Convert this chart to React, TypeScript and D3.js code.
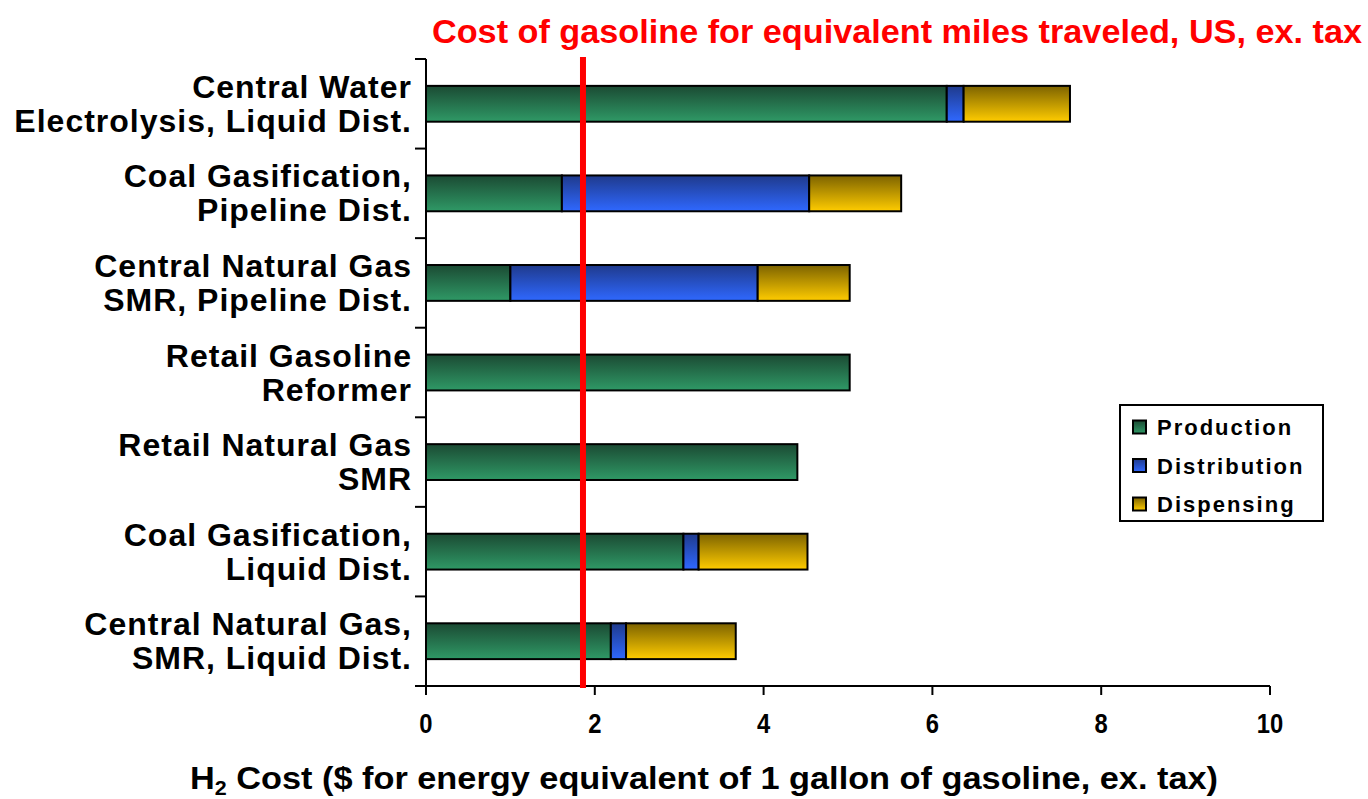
import React, {useEffect, useRef} from 'react';
import * as d3 from "d3"

const categories = [
    ["Central Water", "Electrolysis, Liquid Dist."],
    ["Coal Gasification,", "Pipeline Dist."],
    ["Central Natural Gas", "SMR, Pipeline Dist."],
    ["Retail Gasoline", "Reformer"],
    ["Retail Natural Gas", "SMR"],
    ["Coal Gasification,", "Liquid Dist."],
    ["Central Natural Gas,", "SMR, Liquid Dist."],
]
const production = [6.17, 1.61, 1.0, 5.02, 4.40, 3.05, 2.19]
const distribution = [0.2, 2.93, 2.93, 0, 0, 0.18, 0.18]
const dispensing = [1.26, 1.09, 1.09, 0, 0, 1.29, 1.30]
const seriesNames = ["Production", "Distribution", "Dispensing"]
const xTicks = [0, 2, 4, 6, 8, 10]
const gasolineCost = 1.86

const width = 1368
const height = 799
const margin = {top: 59, right: 98, bottom: 113, left: 426}
const gradients = [["#1b4a33", "#2f9966"], ["#1f3a8c", "#2f68ff"], ["#7d6300", "#ffcc00"]]

const App = () => {
    const svgRef = useRef(null)

    useEffect(() => {
        const svg = d3.select(svgRef.current)
        svg.selectAll("*").remove()
        const font = "'Liberation Sans', Arial, sans-serif"

        // gradients for the bars
        const defs = svg.append("defs")
        seriesNames.forEach((name, i) => {
            const g = defs.append("linearGradient")
                .attr("id", "grad" + i)
                .attr("x1", 0).attr("y1", 0).attr("x2", 0).attr("y2", 1)
            g.append("stop").attr("offset", "0%").attr("stop-color", gradients[i][0])
            g.append("stop").attr("offset", "100%").attr("stop-color", gradients[i][1])
        })

        const rows = categories.map((c, i) => ({
            key: i,
            Production: production[i],
            Distribution: distribution[i],
            Dispensing: dispensing[i],
        }))
        const stacked = d3.stack().keys(seriesNames)(rows)

        const xScale = d3.scaleLinear()
            .domain([0, 10])
            .range([margin.left, width - margin.right])
        const yScale = d3.scaleBand()
            .domain(categories.map((c, i) => i))
            .range([margin.top, height - margin.bottom])
            .paddingInner(0.6)
            .paddingOuter(0.3)

        // bars
        stacked.forEach((layer, si) => {
            svg.append("g")
                .selectAll("rect")
                .data(layer.filter(d => d[1] - d[0] > 0))
                .join("rect")
                .attr("x", d => xScale(d[0]))
                .attr("y", d => yScale(d.data.key))
                .attr("width", d => xScale(d[1]) - xScale(d[0]))
                .attr("height", yScale.bandwidth())
                .attr("fill", `url(#grad${si})`)
                .attr("stroke", "#000")
                .attr("stroke-width", 2)
        })

        // y axis
        const yAxisG = svg.append("g")
        yAxisG.append("line")
            .attr("x1", margin.left).attr("x2", margin.left)
            .attr("y1", margin.top).attr("y2", height - margin.bottom)
            .attr("stroke", "#000").attr("stroke-width", 2)
        const step = yScale.step()
        const boundaries = d3.range(categories.length + 1).map(i => margin.top + i * step)
        yAxisG.selectAll(".tick")
            .data(boundaries)
            .join("line")
            .attr("x1", margin.left - 11).attr("x2", margin.left)
            .attr("y1", d => d).attr("y2", d => d)
            .attr("stroke", "#000").attr("stroke-width", 2)

        categories.forEach((lines, i) => {
            const cy = yScale(i) + yScale.bandwidth() / 2
            const t = svg.append("text")
                .attr("text-anchor", "end")
                .attr("font-family", font)
                .attr("font-weight", "bold")
                .attr("font-size", 32)
                .attr("letter-spacing", 1)
                .attr("fill", "#000")
            lines.forEach((l, j) => {
                t.append("tspan")
                    .attr("x", margin.left - 14)
                    .attr("y", cy + (j === 0 ? -17 : 17) + 11)
                    .text(l)
            })
        })

        // x axis
        const xAxisG = svg.append("g")
        const axisY = height - margin.bottom
        xAxisG.append("line")
            .attr("x1", margin.left).attr("x2", xScale(10))
            .attr("y1", axisY).attr("y2", axisY)
            .attr("stroke", "#000").attr("stroke-width", 2)
        xAxisG.selectAll("line.tick")
            .data(xTicks)
            .join("line")
            .attr("class", "tick")
            .attr("x1", d => xScale(d)).attr("x2", d => xScale(d))
            .attr("y1", axisY).attr("y2", axisY + 9)
            .attr("stroke", "#000").attr("stroke-width", 2)
        xAxisG.selectAll("text")
            .data(xTicks)
            .join("text")
            .attr("x", d => xScale(d))
            .attr("y", axisY + 47)
            .attr("text-anchor", "middle")
            .attr("font-family", font)
            .attr("font-weight", "bold")
            .attr("font-size", 28)
            .attr("transform", d => `translate(${xScale(d)},0) scale(0.85,1) translate(${-xScale(d)},0)`)
            .text(d => d)

        // axis title
        const title = svg.append("text")
            .attr("x", 190)
            .attr("y", 789)
            .attr("font-family", font)
            .attr("font-weight", "bold")
            .attr("font-size", 32)
            .attr("textLength", 1028)
            .attr("lengthAdjust", "spacingAndGlyphs")
        title.append("tspan").text("H")
        title.append("tspan").attr("font-size", 20).attr("dy", 6).text("2")
        title.append("tspan").attr("dy", -6).text(" Cost ($ for energy equivalent of 1 gallon of gasoline, ex. tax)")

        // gasoline cost line
        svg.append("line")
            .attr("x1", xScale(gasolineCost)).attr("x2", xScale(gasolineCost))
            .attr("y1", margin.top - 2).attr("y2", axisY + 2)
            .attr("stroke", "#ff0000").attr("stroke-width", 6)
        svg.append("text")
            .attr("x", 432)
            .attr("y", 43)
            .attr("font-family", font)
            .attr("font-weight", "bold")
            .attr("font-size", 33)
            .attr("fill", "#ff0000")
            .attr("textLength", 930)
            .attr("lengthAdjust", "spacingAndGlyphs")
            .text("Cost of gasoline for equivalent miles traveled, US, ex. tax")

        // legend
        const legend = svg.append("g").attr("transform", "translate(1120,405)")
        legend.append("rect")
            .attr("width", 203).attr("height", 116)
            .attr("fill", "#fff").attr("stroke", "#000").attr("stroke-width", 2)
        seriesNames.forEach((name, i) => {
            const cy = 22 + i * 38.5
            legend.append("rect")
                .attr("x", 13).attr("y", cy - 6.5)
                .attr("width", 13).attr("height", 13)
                .attr("fill", `url(#grad${i})`)
                .attr("stroke", "#000").attr("stroke-width", 2)
            legend.append("text")
                .attr("x", 37).attr("y", cy + 8)
                .attr("font-family", font)
                .attr("font-weight", "bold")
                .attr("font-size", 22)
                .attr("letter-spacing", 2)
                .text(name)
        })
    }, [])

    return (
        <div style={{position: "absolute", left: 0, top: 0}}>
            <svg ref={svgRef} width={width} height={height} style={{display: "block", background: "#fff"}}>
            </svg>
        </div>
    );
};

export default App;
